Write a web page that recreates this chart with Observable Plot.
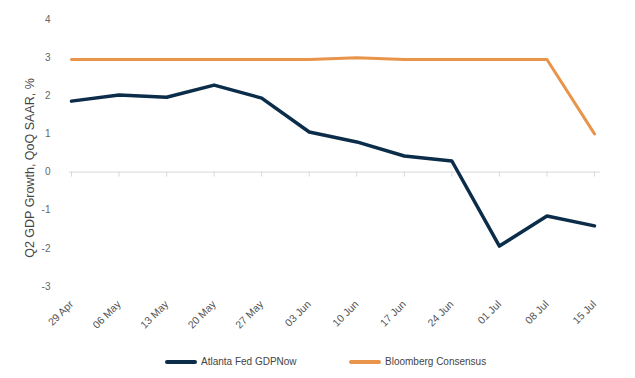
<!DOCTYPE html>
<html>
<head>
<meta charset="utf-8">
<script src="https://cdn.jsdelivr.net/npm/d3@7"></script>
<script src="https://cdn.jsdelivr.net/npm/@observablehq/plot@0.6"></script>
<style>
  html, body { margin: 0; padding: 0; background: #fff; }
  body { width: 635px; height: 378px; overflow: hidden; font-family: "Liberation Sans", Arial, sans-serif; }
  #legend { height: 33px; display: flex; align-items: center; font-size: 10px; color: #444; position: relative; }
  .item { position: absolute; top: 0; height: 33px; display: flex; align-items: center; }
  .sw { width: 32px; height: 4px; border-radius: 2px; margin-right: 4px; }
</style>
</head>
<body>
<div id="chart"></div>
<div id="legend"></div>
<script>
const dates = ["2024-04-29","2024-05-06","2024-05-13","2024-05-20","2024-05-27","2024-06-03","2024-06-10","2024-06-17","2024-06-24","2024-07-01","2024-07-08","2024-07-15"];
const tickLabels = ["29 Apr","06 May","13 May","20 May","27 May","03 Jun","10 Jun","17 Jun","24 Jun","01 Jul","08 Jul","15 Jul"];
const gdpNow = [1.86, 2.02, 1.96, 2.28, 1.94, 1.05, 0.79, 0.42, 0.29, -1.94, -1.15, -1.41];
const consensus = [2.95, 2.95, 2.95, 2.95, 2.95, 2.95, 3.0, 2.95, 2.95, 2.95, 2.95, 1.0];
const seriesNames = ["Atlanta Fed GDPNow", "Bloomberg Consensus"];
const seriesColors = ["#0b2d4a", "#e8944a"];
const yTicks = [-3, -2, -1, 0, 1, 2, 3, 4];
const yLabel = "Q2 GDP Growth, QoQ SAAR, %";

const parse = d3.utcParse("%Y-%m-%d");
const xDates = dates.map(parse);
const labelOf = new Map(xDates.map((d, i) => [+d, tickLabels[i]]));
const rows = [];
xDates.forEach((d, i) => {
  rows.push({date: d, value: gdpNow[i], series: seriesNames[0]});
  rows.push({date: d, value: consensus[i], series: seriesNames[1]});
});

const plot = Plot.plot({
  width: 635,
  height: 345,
  marginLeft: 71,
  marginRight: 41,
  marginTop: 19,
  marginBottom: 59,
  style: {fontFamily: "'Liberation Sans', Arial, sans-serif", fontSize: "10px", color: "#555", background: "#fff"},
  x: {type: "utc", domain: [xDates[0], xDates[xDates.length - 1]]},
  y: {domain: [-3, 4]},
  color: {domain: seriesNames, range: seriesColors},
  marks: [
    Plot.ruleY([0], {stroke: "#d9d9d9", strokeWidth: 1, insetLeft: -2, insetRight: -6}),
    Plot.ruleX(xDates, {x: d => d, y1: 0, y2: 0, insetBottom: -5, stroke: "#d9d9d9"}),
    Plot.axisY(yTicks, {tickSize: 0, tickPadding: 21, label: null, tickFormat: d => String(d), fill: "#666", fontSize: 10}),
    Plot.axisX(xDates, {tickSize: 0, tickPadding: 16, tickRotate: -45, label: null, tickFormat: d => labelOf.get(+d), fill: "#555", fontSize: 10.5}),
    Plot.text([yLabel], {frameAnchor: "left", dx: -42, dy: 15, rotate: -90, textAnchor: "middle", fontSize: 12.5, fill: "#444", text: d => d}),
    Plot.line(rows.filter(r => r.series === seriesNames[1]), {x: "date", y: "value", stroke: seriesColors[1], strokeWidth: 3}),
    Plot.line(rows.filter(r => r.series === seriesNames[0]), {x: "date", y: "value", stroke: seriesColors[0], strokeWidth: 3.5})
  ]
});
document.getElementById("chart").appendChild(plot);

const legend = document.getElementById("legend");
const lefts = [165, 349];
seriesNames.forEach((name, i) => {
  const it = document.createElement("div");
  it.className = "item";
  it.style.left = lefts[i] + "px";
  const sw = document.createElement("div");
  sw.className = "sw";
  sw.style.background = seriesColors[i];
  const t = document.createElement("span");
  t.textContent = name;
  it.appendChild(sw); it.appendChild(t);
  legend.appendChild(it);
});
</script>
</body>
</html>
